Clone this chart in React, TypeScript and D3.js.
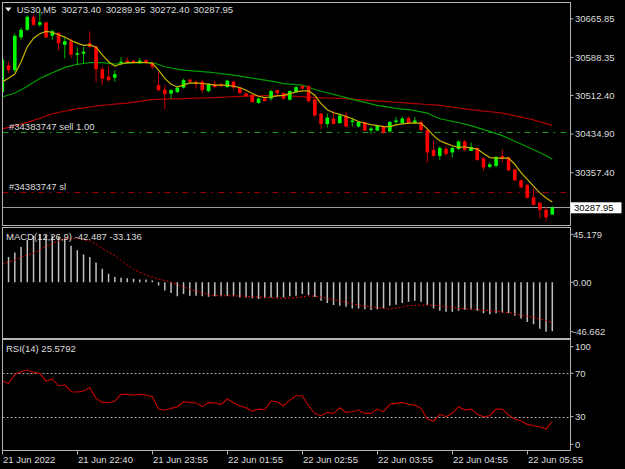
import React from "react";
import * as d3 from "d3";

const W = 625;
const H = 469;

// header
const symbolName = "US30,M5";
const lastBar = [30273.4, 30289.95, 30272.4, 30287.95];

// candles: open, high, low, close
const ohlc: [number, number, number, number][] = [
  [30519, 30588, 30517, 30584], [30573, 30580, 30557, 30563], [30563, 30636, 30559, 30632],
  [30629, 30648, 30624, 30644], [30644, 30673, 30642, 30670], [30670, 30675, 30651, 30654],
  [30654, 30683, 30650, 30659], [30659, 30661, 30627, 30629], [30632, 30644, 30624, 30641],
  [30638, 30640, 30602, 30617], [30614, 30629, 30587, 30621], [30621, 30627, 30587, 30594],
  [30594, 30609, 30573, 30597], [30596, 30610, 30577, 30600], [30617, 30641, 30607, 30610],
  [30610, 30613, 30540, 30565], [30565, 30570, 30533, 30546], [30550, 30570, 30540, 30543],
  [30548, 30563, 30540, 30555], [30577, 30589, 30573, 30580], [30582, 30589, 30577, 30578],
  [30582, 30583, 30575, 30577], [30577, 30588, 30575, 30582], [30583, 30585, 30575, 30577],
  [30577, 30580, 30565, 30570], [30533, 30560, 30521, 30523], [30524, 30533, 30484, 30515],
  [30516, 30525, 30506, 30523], [30519, 30531, 30517, 30528], [30528, 30546, 30526, 30543],
  [30544, 30546, 30538, 30540], [30540, 30541, 30526, 30535], [30540, 30543, 30517, 30523],
  [30521, 30537, 30519, 30535], [30535, 30542, 30528, 30529], [30535, 30537, 30529, 30531],
  [30529, 30544, 30528, 30542], [30540, 30542, 30526, 30528], [30528, 30529, 30516, 30517],
  [30516, 30519, 30508, 30511], [30513, 30515, 30498, 30499], [30497, 30508, 30496, 30506],
  [30506, 30507, 30500, 30501], [30506, 30524, 30502, 30521], [30523, 30524, 30511, 30517],
  [30517, 30519, 30504, 30506], [30504, 30523, 30502, 30521], [30519, 30531, 30517, 30529],
  [30531, 30533, 30525, 30526], [30531, 30533, 30498, 30501], [30504, 30506, 30470, 30472],
  [30476, 30477, 30445, 30455], [30455, 30476, 30448, 30468], [30466, 30481, 30454, 30455],
  [30457, 30476, 30455, 30472], [30472, 30479, 30448, 30450], [30459, 30468, 30450, 30462],
  [30450, 30461, 30448, 30459], [30459, 30460, 30440, 30442], [30442, 30450, 30435, 30446],
  [30442, 30454, 30440, 30452], [30450, 30452, 30435, 30438], [30440, 30461, 30438, 30459],
  [30459, 30469, 30454, 30462], [30457, 30470, 30455, 30466], [30467, 30470, 30455, 30457],
  [30458, 30469, 30455, 30462], [30459, 30462, 30440, 30443], [30443, 30445, 30378, 30398],
  [30403, 30422, 30389, 30391], [30391, 30411, 30383, 30407], [30405, 30411, 30391, 30395],
  [30398, 30410, 30388, 30407], [30405, 30422, 30403, 30420], [30420, 30423, 30400, 30403],
  [30401, 30418, 30401, 30409], [30407, 30408, 30381, 30383], [30386, 30388, 30361, 30368],
  [30369, 30378, 30366, 30374], [30371, 30391, 30368, 30389], [30391, 30405, 30378, 30385],
  [30388, 30389, 30361, 30362], [30364, 30365, 30341, 30342], [30342, 30344, 30326, 30328],
  [30333, 30334, 30306, 30307], [30308, 30327, 30292, 30293], [30297, 30298, 30266, 30283],
  [30283, 30288, 30260, 30268], [30273.4, 30289.95, 30272.4, 30287.95],
];

// moving averages
const maFast = [
  30539.5, 30547.0, 30555.1, 30579.4, 30609.8, 30627.0, 30636.1, 30640.7, 30639.1, 30634.1,
  30629.4, 30622.5, 30617.3, 30612.8, 30613.8, 30609.2, 30593.6, 30580.0, 30571.3, 30575.4,
  30578.0, 30578.4, 30578.8, 30578.4, 30576.8, 30563.2, 30546.4, 30534.9, 30529.4, 30532.9,
  30537.5, 30536.9, 30536.3, 30534.9, 30532.9, 30532.9, 30532.9, 30530.8, 30528.2, 30522.7,
  30516.1, 30510.6, 30508.0, 30509.2, 30511.6, 30512.6, 30516.1, 30519.3, 30521.3, 30521.3,
  30512.6, 30495.8, 30483.7, 30477.6, 30474.2, 30470.1, 30465.5, 30460.0, 30456.6, 30453.9,
  30451.9, 30449.9, 30449.9, 30453.3, 30455.3, 30456.6, 30457.4, 30456.6, 30445.2, 30431.7,
  30421.5, 30416.1, 30411.4, 30408.0, 30409.4, 30406.8, 30404.7, 30395.8, 30387.7, 30386.5,
  30386.5, 30386.5, 30374.4, 30357.4, 30344.0, 30330.5, 30316.9, 30306.8, 30298.7,
];
const maMid = [
  30509.2, 30513.2, 30517.3, 30523.8, 30530.8, 30538.9, 30546.4, 30552.1, 30557.8, 30563.2,
  30568.7, 30571.7, 30574.8, 30576.4, 30578.0, 30578.4, 30578.0, 30576.8, 30575.4, 30576.0,
  30576.8, 30577.4, 30577.8, 30578.0, 30578.0, 30574.4, 30569.9, 30567.3, 30565.2, 30563.2,
  30562.2, 30561.2, 30560.2, 30559.2, 30557.8, 30556.1, 30554.5, 30553.1, 30551.1, 30549.1,
  30547.0, 30545.0, 30543.0, 30541.0, 30538.9, 30535.9, 30534.9, 30533.9, 30532.9, 30528.8,
  30524.2, 30520.7, 30517.7, 30514.6, 30511.2, 30508.0, 30504.5, 30501.5, 30498.5, 30495.4,
  30492.4, 30490.4, 30488.3, 30486.3, 30484.9, 30483.7, 30481.7, 30479.2, 30476.8, 30471.1,
  30465.5, 30463.0, 30460.4, 30458.0, 30454.9, 30451.9, 30447.9, 30443.8, 30440.4, 30435.7,
  30431.7, 30426.0, 30420.5, 30414.9, 30409.4, 30403.3, 30397.9, 30391.2, 30384.5,
];
const maSlow = [
  30445.2, 30448.3, 30451.5, 30454.9, 30458.4, 30462.4, 30466.5, 30471.1, 30475.6, 30478.2,
  30480.6, 30483.3, 30485.7, 30487.3, 30489.1, 30490.8, 30492.4, 30493.6, 30494.8, 30496.0,
  30497.0, 30498.9, 30500.5, 30502.3, 30503.9, 30504.5, 30504.9, 30505.3, 30505.5, 30505.9,
  30506.3, 30506.8, 30507.2, 30507.6, 30508.0, 30508.6, 30509.2, 30510.0, 30510.6, 30511.0,
  30511.4, 30511.6, 30512.0, 30512.2, 30512.4, 30512.6, 30511.6, 30510.6, 30509.8, 30509.0,
  30508.0, 30507.6, 30507.2, 30506.8, 30506.3, 30505.9, 30504.9, 30503.9, 30502.9, 30502.1,
  30501.1, 30500.3, 30499.5, 30498.7, 30497.8, 30497.0, 30496.0, 30495.2, 30494.2, 30493.4,
  30492.4, 30490.6, 30488.9, 30487.1, 30485.5, 30483.7, 30482.3, 30480.8, 30479.6, 30478.2,
  30476.8, 30474.2, 30471.3, 30468.7, 30466.1, 30463.4, 30459.6, 30455.7, 30451.9,
];

const priceTicks = [30665.85, 30588.35, 30512.4, 30434.9, 30357.4];
const bid = 30287.95;
const orderLines = [
  { price: 30439.8, label: "#34383747 sell 1.00", color: "#1f9a1f" },
  { price: 30317.7, label: "#34383747 sl", color: "#a00000" },
];

// MACD
const macdTitle = "MACD(12,26,9) -42.487 -33.136";
const macdHist = [
  19.7, 23.8, 28, 33.3, 39.7, 43.5, 45.2, 44.5, 43.8, 42.9,
  41.3, 34.3, 30.2, 26.1, 23.8, 18.5, 12.7, 8, 4.8, 4.1,
  3.8, 3.2, 2.5, 2.5, 1.6, -3.2, -7.9, -10.2, -13.3, -11.1,
  -12.7, -12.7, -13.3, -13.7, -13.3, -13.3, -12.7, -13.3, -14.3, -14.3,
  -15.2, -15.9, -15.2, -14.3, -14.3, -14.3, -13.3, -12.7, -11.1, -12,
  -14, -17.4, -19.7, -21.6, -22.2, -23.1, -24.7, -24.7, -25.4, -26.3,
  -25.4, -24.7, -22.2, -21.3, -19.7, -18.4, -17.4, -18.4, -21.6, -24.7,
  -27, -27.9, -27.9, -27, -26, -26, -27, -29.2, -30.1, -29.2,
  -28.6, -29.2, -31.7, -34.3, -37.4, -39.6, -43.8, -46.66, -46.2,
];
const macdSignal = [
  17.5, 19, 21, 23.5, 25.5, 27.5, 30.5, 34, 36.5, 39,
  41, 41.5, 41.3, 40, 38.8, 36, 32, 28.5, 25, 20.5,
  16, 12, 9.5, 7, 4.8, 3, 1.6, 0, -2, -4.5,
  -6.5, -8.5, -10.5, -11.8, -12.5, -12.8, -12.8, -12.8, -13, -13.3,
  -13.7, -14, -14.3, -14.6, -15, -15.2, -15, -14.5, -13.8, -13,
  -13, -14, -15.5, -16.5, -17.4, -19, -20.5, -21.6, -22.5, -23.3,
  -24, -24.8, -25.4, -24.5, -23.5, -22.2, -21.8, -21.6, -21.6, -21.8,
  -22.2, -23, -24, -24.7, -25, -25.3, -25.8, -26.3, -27, -27.5,
  -28.1, -28.6, -29.8, -31, -32, -33, -34.6, -36.3, -38,
];
const macdTicks = [45.179, 0, -46.662];

// RSI
const rsiTitle = "RSI(14) 25.5792";
const rsi = [
  62.9, 60.7, 69, 71.5, 73, 70.9, 70, 62.9, 64.7, 58.5,
  59.2, 53, 52.7, 53.6, 56.7, 46.9, 43.2, 42.9, 44.4, 50.6,
  50.6, 50, 50.6, 50, 48.4, 37, 35.9, 37.7, 39.2, 43.8,
  43.2, 42.6, 39.2, 43.2, 42.6, 41.4, 46.3, 42.6, 39.8, 38.2,
  35.2, 37, 36.4, 44.4, 43.8, 40.1, 45.3, 49.3, 49.3, 40.1,
  33.1, 30.9, 34, 33.1, 38.2, 34, 34.6, 36.1, 33.1, 33.1,
  37, 34.6, 41.4, 42.3, 43.2, 41.4, 40.7, 37.7, 27.8, 26,
  32.2, 30, 33.1, 39.2, 36.1, 37, 32.2, 30, 30.9, 37,
  37, 31.5, 27.8, 26, 22.9, 21.7, 20.7, 18.6, 25.58,
];
const rsiTicks = [100, 70, 30, 0];
const rsiLevels = [70, 30];

// time axis, one label every 12 bars
const timeLabels = [
  "21 Jun 2022", "21 Jun 22:40", "21 Jun 23:55", "22 Jun 01:55",
  "22 Jun 02:55", "22 Jun 03:55", "22 Jun 04:55", "22 Jun 05:55",
];
const labelStep = 12;

const FONT = "'Liberation Sans', Arial, sans-serif";
const FS = 9.5;
const TXT = "#dcdcdc";
const FRAME = "#b4b4b4";

const L = 2.5;
const R = 570.5;
const mainP = { top: 2.5, bottom: 225.5 };
const macdP = { top: 227.5, bottom: 338.5 };
const rsiP = { top: 339.5, bottom: 450.5 };

export default function App() {
  const n = ohlc.length;
  const x = d3.scaleLinear().domain([0, n - 1]).range([2.3, 552.3]);
  const y = d3.scaleLinear().domain([30665.85, 30287.95]).range([18.9, 207.3]);
  const ym = d3.scaleLinear().domain([45.179, -46.662]).range([234.3, 331.7]);
  const yr = d3.scaleLinear().domain([100, 0]).range([340.75, 449.25]);

  const maLine = d3
    .line<number>()
    .x((_, i) => x(i))
    .y((d) => y(d));
  const sigLine = d3
    .line<number>()
    .x((_, i) => x(i))
    .y((d) => ym(d));
  const rsiLine = d3
    .line<number>()
    .x((_, i) => x(i))
    .y((d) => yr(d));

  const bodyW = 3.6;

  // header pieces: name, then the four prices of the last bar
  const headerItems = [symbolName, ...lastBar.map((v) => v.toFixed(2))];
  const headerX = [16.7, 61.5, 105.8, 149.8, 193.5];

  return (
    <div style={{ position: "fixed", left: 0, top: 0, width: W, height: H, background: "#000" }}>
      <svg width={W} height={H} style={{ display: "block" }} fontFamily={FONT} fontSize={FS}>
        <defs>
          <clipPath id="cMain">
            <rect x={L} y={mainP.top} width={R - L} height={mainP.bottom - mainP.top} />
          </clipPath>
          <clipPath id="cMacd">
            <rect x={L} y={macdP.top} width={R - L} height={macdP.bottom - macdP.top} />
          </clipPath>
          <clipPath id="cRsi">
            <rect x={L} y={rsiP.top} width={R - L} height={rsiP.bottom - rsiP.top} />
          </clipPath>
        </defs>
        <rect width={W} height={H} fill="#000" />

        {/* main price panel */}
        <g clipPath="url(#cMain)">
          {orderLines.map((o) => (
            <line
              key={o.label}
              x1={L}
              x2={R}
              y1={Math.round(y(o.price)) + 0.5}
              y2={Math.round(y(o.price)) + 0.5}
              stroke={o.color}
              strokeDasharray="6,5,2,5"
            />
          ))}
          <line x1={L} x2={R} y1={Math.round(y(bid)) + 0.5} y2={Math.round(y(bid)) + 0.5} stroke="#9a9a9a" />
          <path d={maLine(maSlow) || ""} fill="none" stroke="#b00000" strokeWidth={1.2} />
          <path d={maLine(maMid) || ""} fill="none" stroke="#009c00" strokeWidth={1.2} />
          {ohlc.map(([o, h, l, c], i) => {
            const up = c >= o;
            const cx = x(i);
            const top = y(Math.max(o, c));
            const bh = Math.max(1, y(Math.min(o, c)) - top);
            return (
              <g key={i}>
                <line x1={cx} x2={cx} y1={y(h)} y2={y(l)} stroke={up ? "#00c000" : "#c80000"} strokeWidth={1} />
                <rect x={cx - bodyW / 2} y={top} width={bodyW} height={bh} fill={up ? "#00ff00" : "#ff0000"} />
              </g>
            );
          })}
          <path d={maLine(maFast) || ""} fill="none" stroke="#c8b400" strokeWidth={1.2} />
          {orderLines.map((o) => (
            <text key={o.label + "t"} x={9} y={y(o.price) - 2} fill={TXT}>
              {o.label}
            </text>
          ))}
        </g>
        <polygon points="5,7.5 11.5,7.5 8.25,11.5" fill="#e8e8e8" />
        {headerItems.map((t, k) => (
          <text key={k} x={headerX[k]} y={12.8} fill={TXT}>
            {t}
          </text>
        ))}

        {/* MACD panel */}
        <g clipPath="url(#cMacd)">
          {macdHist.map((v, i) => (
            <line
              key={i}
              x1={x(i)}
              x2={x(i)}
              y1={ym(0)}
              y2={ym(v)}
              stroke="#c0c0c0"
              strokeWidth={1.5}
            />
          ))}
          <path d={sigLine(macdSignal) || ""} fill="none" stroke="#e00000" strokeWidth={1} strokeDasharray="2,2" />
        </g>
        <text x={6} y={239.5} fill={TXT}>
          {macdTitle}
        </text>

        {/* RSI panel */}
        <g clipPath="url(#cRsi)">
          {rsiLevels.map((v) => (
            <line
              key={v}
              x1={L}
              x2={R}
              y1={Math.round(yr(v)) + 0.5}
              y2={Math.round(yr(v)) + 0.5}
              stroke="#a8a8a8"
              strokeDasharray="2,2"
            />
          ))}
          <path d={rsiLine(rsi) || ""} fill="none" stroke="#c80000" strokeWidth={1.1} />
        </g>
        <text x={6} y={351.8} fill={TXT}>
          {rsiTitle}
        </text>

        {/* frames */}
        {[mainP, macdP, rsiP].map((p, k) => (
          <rect key={k} x={L} y={p.top} width={R - L} height={p.bottom - p.top} fill="none" stroke={FRAME} />
        ))}

        {/* price axis */}
        {priceTicks.map((v) => (
          <g key={v}>
            <line x1={R} x2={R + 3} y1={y(v)} y2={y(v)} stroke={FRAME} />
            <text x={575} y={y(v) + 3.4} fill={TXT}>
              {v.toFixed(2)}
            </text>
          </g>
        ))}
        <rect x={570.5} y={y(bid) - 5} width={51} height={11} fill="#ffffff" />
        <text x={574} y={y(bid) + 3.6} fill="#000">
          {bid.toFixed(2)}
        </text>

        {/* MACD axis */}
        {macdTicks.map((v) => (
          <g key={v}>
            <line x1={R} x2={R + 3} y1={ym(v)} y2={ym(v)} stroke={FRAME} />
            <text x={573} y={ym(v) + 3.4} fill={TXT}>
              {v === 0 ? "0.00" : v.toFixed(3)}
            </text>
          </g>
        ))}

        {/* RSI axis */}
        {rsiTicks.map((v) => {
          const ty = Math.min(Math.max(yr(v), 346.7), 444.3);
          return (
            <g key={v}>
              <line x1={R} x2={R + 3} y1={ty} y2={ty} stroke={FRAME} />
              <text x={575} y={ty + 3.4} fill={TXT}>
                {v}
              </text>
            </g>
          );
        })}

        {/* time axis */}
        {timeLabels.map((t, k) => {
          const tx = Math.round(x(k * labelStep)) + 0.5;
          return (
            <g key={t}>
              <line x1={tx} x2={tx} y1={rsiP.bottom} y2={rsiP.bottom + 4} stroke={FRAME} />
              <text x={tx + 0.5} y={463} fill={TXT}>
                {t}
              </text>
            </g>
          );
        })}
      </svg>
    </div>
  );
}
